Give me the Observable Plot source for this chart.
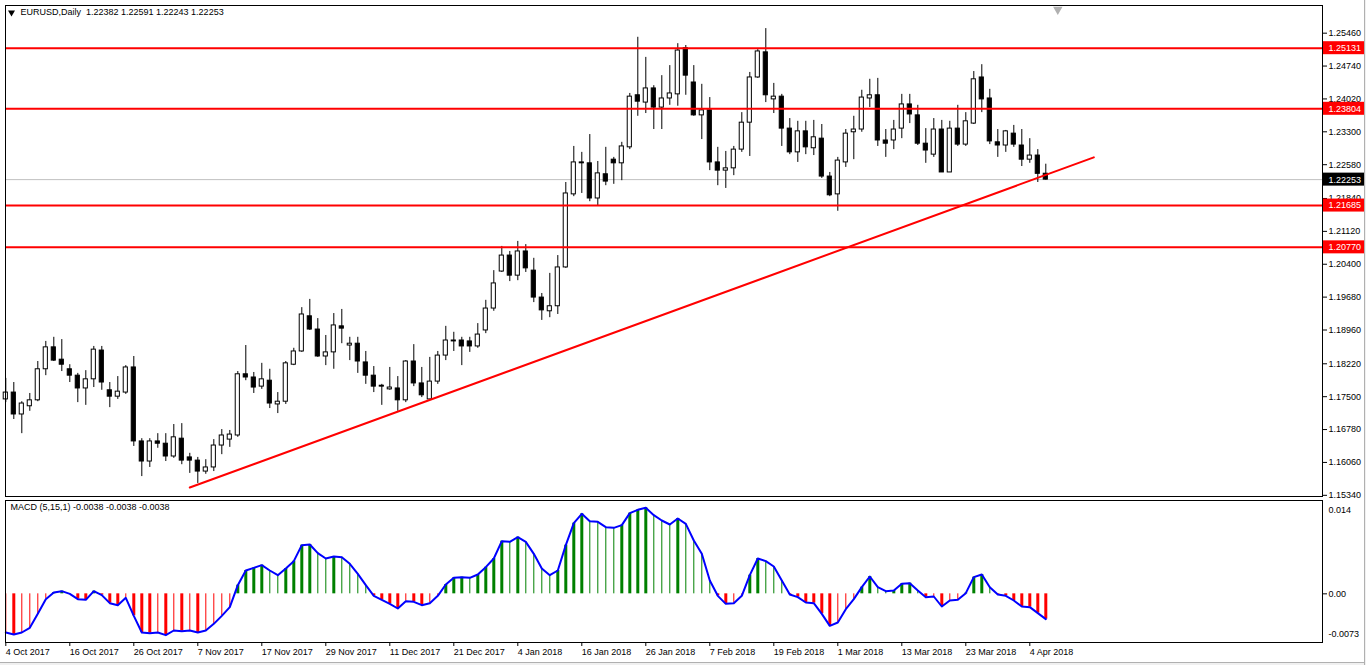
<!DOCTYPE html>
<html>
<head>
<meta charset="utf-8">
<script src="https://cdn.jsdelivr.net/npm/d3@7"></script>
<script src="https://cdn.jsdelivr.net/npm/@observablehq/plot@0.6"></script>
<style>
  html, body { margin: 0; padding: 0; background: #fff; }
  #wrap { position: relative; width: 1366px; height: 665px; overflow: hidden; background: #fff; }
  #wrap svg { position: absolute; left: 0; }
  #bottomband { position: absolute; left: 0; top: 662px; width: 1366px; height: 3px; background: #f0f0f0; border-top: 1px solid #b0b0b0; }
  #rightedge { position: absolute; left: 1364px; top: 0; width: 2px; height: 665px; background: #f0f0f0; border-left: 1px solid #b0b0b0; }
</style>
</head>
<body>
<div id="wrap"><div id="bottomband"></div><div id="rightedge"></div></div>
<script>
// ---------- DATA (EURUSD daily, 4 Oct 2017 .. 6 Apr 2018) ----------
const symbolTitle = "EURUSD,Daily";
const open = [1.1744,1.1759,1.1711,1.1729,1.1742,1.1810,1.1858,1.1831,1.1810,1.1796,
1.1768,1.1788,1.1851,1.1764,1.1750,1.1759,1.1814,1.1652,1.1608,1.1652,
1.1647,1.1619,1.1658,1.1617,1.1610,1.1586,1.1595,1.1643,1.1656,1.1665,
1.1799,1.1792,1.1772,1.1785,1.1733,1.1739,1.1820,1.1849,1.1926,1.1897,
1.1838,1.1847,1.1904,1.1862,1.1866,1.1825,1.1796,1.1774,1.1766,1.1768,
1.1742,1.1827,1.1779,1.1744,1.1783,1.1840,1.1871,1.1873,1.1871,1.1860,
1.1895,1.1943,1.2024,1.2059,1.2015,1.2068,1.2026,1.1967,1.1937,1.1948,
1.2033,1.2193,1.2263,1.2261,1.2184,1.2237,1.2269,1.2261,1.2296,1.2410,
1.2394,1.2425,1.2383,1.2403,1.2412,1.2513,1.2438,1.2366,1.2377,1.2263,
1.2245,1.2250,1.2291,1.2350,1.2449,1.2504,1.2401,1.2407,1.2337,1.2285,
1.2331,1.2294,1.2315,1.2232,1.2193,1.2263,1.2329,1.2335,1.2403,1.2410,
1.2311,1.2311,1.2337,1.2390,1.2366,1.2304,1.2280,1.2335,1.2241,1.2337,
1.2302,1.2348,1.2449,1.2403,1.2307,1.2300,1.2326,1.2300,1.2269,1.2278,
1.22382];
const high = [1.1790,1.1781,1.1739,1.1757,1.1827,1.1871,1.1880,1.1875,1.1820,1.1801,
1.1807,1.1860,1.1860,1.1781,1.1794,1.1818,1.1838,1.1658,1.1658,1.1669,
1.1669,1.1689,1.1691,1.1626,1.1617,1.1612,1.1656,1.1678,1.1676,1.1805,
1.1862,1.1803,1.1823,1.1810,1.1759,1.1827,1.1856,1.1945,1.1963,1.1921,
1.1884,1.1932,1.1941,1.1880,1.1880,1.1849,1.1816,1.1777,1.1814,1.1794,
1.1829,1.1864,1.1814,1.1836,1.1849,1.1904,1.1891,1.1880,1.1880,1.1910,
1.1961,1.2026,1.2079,1.2068,1.2090,1.2083,1.2053,1.1976,1.2020,1.2059,
1.2219,1.2298,1.2285,1.2324,1.2265,1.2296,1.2274,1.2307,1.2414,1.2537,
1.2493,1.2431,1.2453,1.2475,1.2523,1.2519,1.2475,1.2434,1.2405,1.2296,
1.2287,1.2298,1.2372,1.2460,1.2510,1.2556,1.2436,1.2412,1.2359,1.2353,
1.2353,1.2355,1.2346,1.2241,1.2274,1.2335,1.2364,1.2421,1.2445,1.2447,
1.2335,1.2355,1.2412,1.2412,1.2388,1.2337,1.2359,1.2355,1.2353,1.2388,
1.2372,1.2462,1.2477,1.2423,1.2335,1.2333,1.2344,1.2335,1.2315,1.2291,
1.22591];
const low = [1.1737,1.1700,1.1669,1.1718,1.1739,1.1796,1.1827,1.1805,1.1781,1.1737,
1.1731,1.1770,1.1764,1.1726,1.1744,1.1755,1.1641,1.1575,1.1595,1.1637,
1.1608,1.1615,1.1601,1.1582,1.1560,1.1580,1.1586,1.1623,1.1639,1.1661,
1.1785,1.1757,1.1766,1.1724,1.1713,1.1733,1.1818,1.1847,1.1895,1.1836,
1.1818,1.1810,1.1866,1.1829,1.1801,1.1777,1.1759,1.1731,1.1764,1.1718,
1.1737,1.1772,1.1748,1.1742,1.1777,1.1829,1.1849,1.1818,1.1847,1.1856,
1.1888,1.1937,1.2022,1.2002,1.2004,1.2022,1.1956,1.1917,1.1923,1.1930,
1.2031,1.2188,1.2195,1.2177,1.2167,1.2212,1.2215,1.2223,1.2291,1.2364,
1.2370,1.2335,1.2335,1.2388,1.2386,1.2410,1.2364,1.2313,1.2245,1.2212,
1.2206,1.2234,1.2285,1.2276,1.2447,1.2394,1.2370,1.2298,1.2280,1.2263,
1.2280,1.2278,1.2228,1.2188,1.2156,1.2252,1.2269,1.2329,1.2383,1.2298,
1.2274,1.2291,1.2315,1.2348,1.2300,1.2261,1.2274,1.2241,1.2241,1.2298,
1.2298,1.2346,1.2372,1.2302,1.2274,1.2285,1.2296,1.2254,1.2261,1.2219,
1.22243];
const close = [1.1759,1.1711,1.1735,1.1742,1.1810,1.1858,1.1829,1.1820,1.1796,1.1768,
1.1788,1.1853,1.1781,1.1750,1.1761,1.1814,1.1652,1.1608,1.1652,1.1647,
1.1619,1.1661,1.1610,1.1610,1.1586,1.1595,1.1643,1.1665,1.1667,1.1799,
1.1792,1.1770,1.1788,1.1735,1.1739,1.1823,1.1849,1.1930,1.1897,1.1838,
1.1847,1.1906,1.1899,1.1866,1.1827,1.1796,1.1772,1.1772,1.1770,1.1742,
1.1827,1.1779,1.1753,1.1783,1.1840,1.1873,1.1873,1.1860,1.1860,1.1886,
1.1943,1.1998,1.2059,1.2015,1.2068,1.2031,1.1967,1.1939,1.1948,1.2033,
1.2195,1.2263,1.2261,1.2184,1.2239,1.2221,1.2261,1.2298,1.2407,1.2396,
1.2425,1.2383,1.2403,1.2414,1.2508,1.2453,1.2366,1.2377,1.2263,1.2245,
1.2250,1.2291,1.2350,1.2449,1.2506,1.2410,1.2407,1.2337,1.2285,1.2331,
1.2296,1.2318,1.2232,1.2191,1.2267,1.2326,1.2335,1.2405,1.2410,1.2311,
1.2304,1.2335,1.2390,1.2368,1.2304,1.2289,1.2335,1.2241,1.2337,1.2302,
1.2353,1.2445,1.2401,1.2309,1.2300,1.2331,1.2302,1.2269,1.2278,1.2238,
1.22253];
// MACD (5,15,1) main value per bar (signal period 1 = same)
const macd = [-0.0058,-0.0061,-0.0058,-0.0051,-0.0030,-0.0008,0.0002,0.0004,0.0000,-0.0008,
-0.0009,0.0004,-0.0002,-0.0014,-0.0017,-0.0006,-0.0033,-0.0058,-0.0059,-0.0058,
-0.0062,-0.0055,-0.0056,-0.0055,-0.0058,-0.0055,-0.0045,-0.0033,-0.0020,0.0013,
0.0035,0.0039,0.0043,0.0035,0.0028,0.0038,0.0049,0.0073,0.0074,0.0061,
0.0053,0.0056,0.0055,0.0045,0.0030,0.0013,-0.0003,-0.0009,-0.0015,-0.0022,
-0.0011,-0.0012,-0.0017,-0.0014,-0.0003,0.0014,0.0024,0.0025,0.0024,0.0029,
0.0040,0.0053,0.0079,0.0078,0.0085,0.0078,0.0060,0.0038,0.0028,0.0035,
0.0073,0.0106,0.0120,0.0109,0.0108,0.0100,0.0099,0.0103,0.0121,0.0126,
0.0129,0.0118,0.0110,0.0104,0.0113,0.0105,0.0080,0.0060,0.0020,-0.0003,
-0.0015,-0.0014,-0.0003,0.0028,0.0053,0.0049,0.0041,0.0020,-0.0001,-0.0005,
-0.0013,-0.0014,-0.0030,-0.0048,-0.0043,-0.0023,-0.0008,0.0010,0.0026,0.0010,
0.0004,0.0005,0.0015,0.0016,0.0005,-0.0005,-0.0004,-0.0019,-0.0010,-0.0009,
0.0001,0.0025,0.0029,0.0010,-0.0001,-0.0003,-0.0010,-0.0019,-0.0020,-0.0029,
-0.0038];
// date labels: bar index -> text
const dateLabelBars = [0,8,16,24,32,40,48,56,64,72,80,88,96,104,112,120,128];
const dateLabels = ["4 Oct 2017","16 Oct 2017","26 Oct 2017","7 Nov 2017","17 Nov 2017","29 Nov 2017",
  "11 Dec 2017","21 Dec 2017","4 Jan 2018","16 Jan 2018","26 Jan 2018","7 Feb 2018","19 Feb 2018",
  "1 Mar 2018","13 Mar 2018","23 Mar 2018","4 Apr 2018"];
const priceTicks = [1.25460,1.24740,1.24020,1.23300,1.22580,1.21840,1.21120,1.20400,1.19680,1.18960,1.18220,1.17500,1.16780,1.16060,1.15340];
const levels = [1.25131, 1.23804, 1.21685, 1.20770];
const lastPrice = 1.22253;
// trend line anchors (bar index, price)
const trendBars = [23, 136];
const trendPrices = [1.1551, 1.2274];
const macdTicks = [0.014, 0.00, -0.0073];
const macdTitle = "MACD (5,15,1) -0.0038 -0.0038 -0.0038";

// ---------- BUILD ----------
const N = close.length;
const bars = d3.range(N).map(i => ({i, o: open[i], h: high[i], l: low[i], c: close[i]}));
const trend = trendBars.map((b, k) => ({i: b, p: trendPrices[k]}));
const macdData = macd.map((v, i) => {
  const prev = i > 0 ? macd[i - 1] : v;
  const thick = v >= 0 ? v > prev : v < prev;
  return {i, v, thick};
});
const headerText = `${symbolTitle}  ${[open[N-1], high[N-1], low[N-1], close[N-1]].map(d3.format(".5f")).join(" ")}`;

const xDomain = [-0.0375, 164.5875];
const xEnd = xDomain[1];
const font = "'Liberation Sans', Arial, sans-serif";
const fmt5 = d3.format(".5f");

const main = Plot.plot({
  width: 1366, height: 497,
  marginLeft: 5, marginRight: 44, marginTop: 5, marginBottom: 1,
  x: {domain: xDomain, axis: null, label: null},
  y: {domain: [1.15314, 1.26066], axis: null, label: null},
  style: {fontFamily: font, fontSize: "9px", background: "transparent", overflow: "visible"},
  marks: [
    Plot.ruleY([lastPrice], {stroke: "#c0c0c0", strokeWidth: 1}),
    Plot.ruleX(bars, {x: "i", y1: "l", y2: "h", stroke: "black", strokeWidth: 1}),
    Plot.rect(bars, {x1: d => d.i - 0.26, x2: d => d.i + 0.26, y1: "o", y2: "c",
      fill: d => d.c >= d.o ? "white" : "black", stroke: "black", strokeWidth: 1}),
    Plot.ruleY(levels, {stroke: "#ff0000", strokeWidth: 2}),
    Plot.line(trend, {x: "i", y: "p", stroke: "#ff0000", strokeWidth: 2}),
    Plot.frame({stroke: "black"}),
    Plot.axisY({anchor: "right", label: null, ticks: priceTicks, tickFormat: fmt5, tickSize: 4, tickPadding: 2,
      textAnchor: "start", fontSize: 9, fill: "black"}),
    Plot.rect(levels, {x1: () => xEnd, x2: () => xEnd, y1: d => d, y2: d => d,
      insetLeft: 1, insetRight: -42, insetTop: -6.5, insetBottom: -6.5, fill: "#ff0000"}),
    Plot.text(levels, {x: () => xEnd, y: d => d, text: d => fmt5(d), dx: 6, textAnchor: "start", fill: "white", fontSize: 9}),
    Plot.rect([lastPrice], {x1: () => xEnd, x2: () => xEnd, y1: d => d, y2: d => d,
      insetLeft: 1, insetRight: -42, insetTop: -6.5, insetBottom: -6.5, fill: "black"}),
    Plot.text([lastPrice], {x: () => xEnd, y: d => d, text: d => fmt5(d), dx: 6, textAnchor: "start", fill: "white", fontSize: 9}),
    Plot.dot([0], {frameAnchor: "top-left", dx: 6, dy: 7, symbol: "triangle", rotate: 180, r: 2.6, fill: "black", stroke: "none"}),
    Plot.text([headerText], {frameAnchor: "top-left", dx: 15, dy: 3, lineAnchor: "top", textAnchor: "start", fontSize: 9, fill: "black"}),
    Plot.dot([N + 0.5], {x: d => d, frameAnchor: "top", dy: 4, symbol: "triangle", rotate: 180, r: 3.5, fill: "#b0b0b0", stroke: "none"})
  ]
});
main.style.top = "0px";

const macdPlot = Plot.plot({
  width: 1366, height: 168,
  marginLeft: 5, marginRight: 44, marginTop: 3, marginBottom: 23,
  x: {domain: xDomain, axis: null, label: null},
  y: {domain: [-0.0073, 0.014], axis: null, label: null},
  style: {fontFamily: font, fontSize: "9px", background: "transparent", overflow: "visible"},
  marks: [
    Plot.ruleX(macdData.filter(d => !d.thick), {x: "i", y1: 0, y2: "v", stroke: d => d.v >= 0 ? "#008000" : "#ff0000", strokeWidth: 1}),
    Plot.ruleX(macdData.filter(d => d.thick), {x: "i", y1: 0, y2: "v", stroke: d => d.v >= 0 ? "#008000" : "#ff0000", strokeWidth: 3}),
    Plot.line(macdData, {x: "i", y: "v", stroke: "#0000ff", strokeWidth: 2}),
    Plot.frame({stroke: "black"}),
    Plot.axisX({anchor: "bottom", label: null, ticks: dateLabelBars, tickFormat: i => dateLabels[dateLabelBars.indexOf(i)],
      tickSize: 4, tickPadding: 2, textAnchor: "start", fontSize: 9, fill: "black"}),
    Plot.axisY({anchor: "right", label: null, ticks: [macdTicks[1]], tickFormat: () => "0.00", tickSize: 4, tickPadding: 2,
      textAnchor: "start", fontSize: 9, fill: "black"}),
    Plot.text([macdTicks[0]], {frameAnchor: "top-right", dx: 6, dy: 6, text: d => String(d), textAnchor: "start", fontSize: 9, fill: "black"}),
    Plot.text([macdTicks[2]], {frameAnchor: "bottom-right", dx: 6, dy: -6, text: d => String(d), textAnchor: "start", fontSize: 9, fill: "black"}),
    Plot.text([macdTitle], {frameAnchor: "top-left", dx: 5, dy: 3, lineAnchor: "top", textAnchor: "start", fontSize: 9, fill: "black"})
  ]
});
macdPlot.style.top = "497px";

const wrap = document.getElementById("wrap");
wrap.insertBefore(macdPlot, wrap.firstChild);
wrap.insertBefore(main, wrap.firstChild);
</script>
</body>
</html>
